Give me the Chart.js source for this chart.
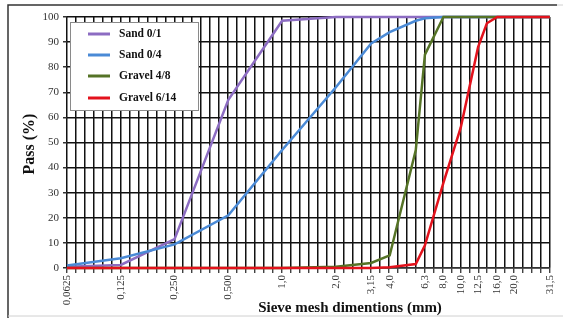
<!DOCTYPE html>
<html>
<head>
<meta charset="utf-8">
<script src="https://cdn.jsdelivr.net/npm/chart.js@4.4.1/dist/chart.umd.min.js"></script>
<style>
  body { margin: 0; background: #fff; }
  #wrap { width: 565px; height: 320px; }
</style>
</head>
<body>
<div id="wrap"><canvas id="sieveChart" width="565" height="320"></canvas></div>
<script>
// sieve sizes (mm) and % passing for each material
var sieveSizes = [0.0625, 0.125, 0.25, 0.5, 1, 2, 3.15, 4, 5.6, 6.3, 8, 10, 12.5, 14, 16, 20, 31.5];
var sand01    = [0.5, 1.2, 11.5, 67, 98.5, 100, 100, 100, 100, 100, 100, 100, 100, 100, 100, 100, 100];
var sand04    = [1, 3.9, 9.4, 21, 47, 72, 89.5, 94, 98.5, 99.5, 100, 100, 100, 100, 100, 100, 100];
var gravel48  = [0, 0, 0, 0, 0, 0.5, 2, 5, 47, 85, 100, 100, 100, 100, 100, 100, 100];
var gravel614 = [0, 0, 0, 0, 0, 0, 0, 0.3, 1.6, 9, 34, 56, 88, 97.5, 100, 100, 100];

var seriesNames = ['Sand 0/1', 'Sand 0/4', 'Gravel 4/8', 'Gravel 6/14'];
var seriesColors = ['#8c6cc2', '#4a8ad6', '#557326', '#e3121c'];

var tickValues = [0.0625, 0.125, 0.25, 0.5, 1, 2, 3.15, 4, 6.3, 8, 10, 12.5, 16, 20, 31.5];
var tickLabels = ['0,0625', '0,125', '0,250', '0,500', '1,0', '2,0', '3,15', '4,0', '6,3', '8,0', '10,0', '12,5', '16,0', '20,0', '31,5'];
var yTicks = [0, 10, 20, 30, 40, 50, 60, 70, 80, 90, 100];

var serif = '"Liberation Serif", "Times New Roman", serif';

function toPoints(values) {
    return sieveSizes.map(function (s, i) { return { x: s, y: values[i] }; });
}

// titles, frame and the boxed legend inside the plot
var decorPlugin = {
    id: 'decor',
    afterDraw: function (chart) {
        var ctx = chart.ctx;
        ctx.save();

        // outer frame
        ctx.lineWidth = 1.5;
        ctx.strokeStyle = '#333';
        ctx.beginPath();
        ctx.moveTo(8, 318); ctx.lineTo(8, 5); ctx.lineTo(557, 5);
        ctx.stroke();
        ctx.strokeStyle = '#d0d0d0';
        ctx.lineWidth = 1;
        ctx.beginPath();
        ctx.moveTo(557, 5); ctx.lineTo(563, 5);
        ctx.moveTo(8, 316); ctx.lineTo(563, 316);
        ctx.stroke();

        // axis titles
        ctx.fillStyle = '#111';
        ctx.font = 'bold 15px ' + serif;
        ctx.textAlign = 'center';
        ctx.textBaseline = 'middle';
        ctx.fillText('Sieve mesh dimentions (mm)', 350, 308);
        ctx.save();
        ctx.translate(30, 144);
        ctx.rotate(-Math.PI / 2);
        ctx.font = 'bold 16px ' + serif;
        ctx.fillText('Pass (%)', 0, 0);
        ctx.restore();

        // legend
        var bx = 70, by = 22, bw = 128, bh = 88;
        ctx.fillStyle = '#fff';
        ctx.fillRect(bx, by, bw, bh);
        ctx.strokeStyle = '#8a8a8a';
        ctx.lineWidth = 1;
        ctx.strokeRect(bx + 0.5, by + 0.5, bw, bh);
        var rows = [34, 55, 76, 98];
        ctx.font = 'bold 11.5px ' + serif;
        ctx.textAlign = 'left';
        chart.data.datasets.forEach(function (ds, i) {
            ctx.strokeStyle = ds.borderColor;
            ctx.lineWidth = 3;
            ctx.beginPath();
            ctx.moveTo(88, rows[i]); ctx.lineTo(110, rows[i]);
            ctx.stroke();
            ctx.fillStyle = '#111';
            ctx.fillText(ds.label, 119, rows[i]);
        });
        ctx.restore();
    }
};

var ctx = document.getElementById('sieveChart').getContext('2d');
var myChart = new Chart(ctx, {
    type: 'line',
    data: {
        // later series drawn on top (lower order = on top)
        datasets: [
            { label: seriesNames[0], data: toPoints(sand01), borderColor: seriesColors[0], order: 4 },
            { label: seriesNames[1], data: toPoints(sand04), borderColor: seriesColors[1], order: 3 },
            { label: seriesNames[2], data: toPoints(gravel48), borderColor: seriesColors[2], order: 2 },
            { label: seriesNames[3], data: toPoints(gravel614), borderColor: seriesColors[3], order: 1 }
        ]
    },
    options: {
        responsive: false,
        animation: false,
        layout: { padding: { left: 0, right: 9, top: 17, bottom: 0 } },
        elements: {
            line: { borderWidth: 2.5, tension: 0, fill: false },
            point: { radius: 0, hoverRadius: 0 }
        },
        datasets: { line: { clip: false } },
        plugins: {
            legend: { display: false },
            tooltip: { enabled: false }
        },
        scales: {
            x: {
                type: 'logarithmic',
                position: 'bottom',
                weight: 1,
                min: 0.0625,
                max: 31.5,
                bounds: 'data',
                grid: { display: false, drawTicks: false },
                border: { display: false },
                afterBuildTicks: function (scale) {
                    scale.ticks = tickValues.map(function (v) { return { value: v }; });
                },
                afterFit: function (scale) { scale.height = 47; },
                ticks: {
                    autoSkip: false,
                    minRotation: 90,
                    maxRotation: 90,
                    padding: 2,
                    color: '#333',
                    font: { family: serif, size: 11 },
                    callback: function (value) {
                        var i = tickValues.indexOf(value);
                        return i >= 0 ? tickLabels[i] : '';
                    }
                }
            },
            xg: {
                type: 'linear',
                position: 'bottom',
                weight: 0,
                min: 0,
                max: 54,
                grid: {
                    color: '#111',
                    lineWidth: 1.5,
                    borderDash: [2, 1.5],
                    drawTicks: true,
                    tickLength: 5,
                    tickColor: '#222',
                    tickWidth: 1.2
                },
                border: { display: true, color: '#333', width: 1.5 },
                afterFit: function (scale) { scale.height = 5; },
                ticks: { display: false, stepSize: 1, maxTicksLimit: 100 }
            },
            y: {
                min: 0,
                max: 100,
                afterBuildTicks: function (scale) {
                    scale.ticks = yTicks.map(function (v) { return { value: v }; });
                },
                afterFit: function (scale) { scale.width = 67; },
                grid: {
                    color: '#111',
                    lineWidth: 1.5,
                    borderDash: [2, 1.5],
                    drawTicks: true,
                    tickLength: 4,
                    tickColor: '#333'
                },
                border: { display: false },
                ticks: {
                    padding: 4,
                    color: '#333',
                    font: { family: serif, size: 11 }
                }
            }
        }
    },
    plugins: [decorPlugin]
});
</script>
</body>
</html>
